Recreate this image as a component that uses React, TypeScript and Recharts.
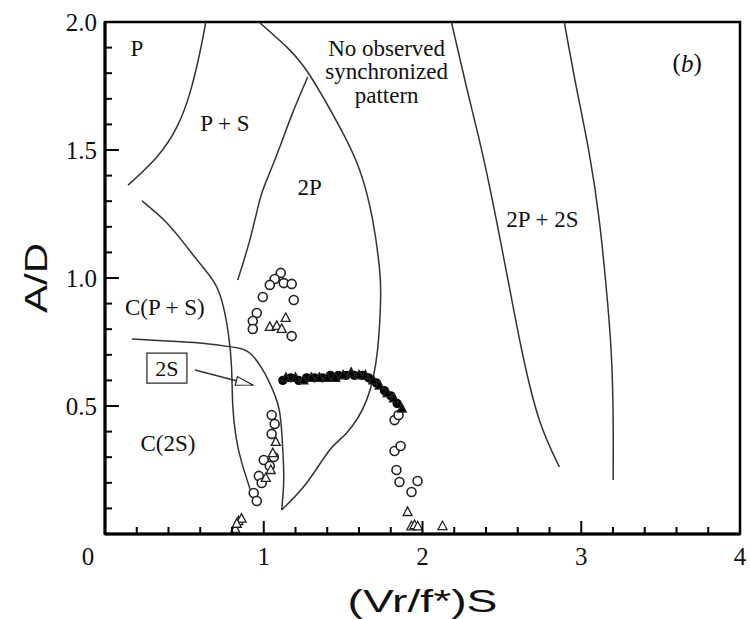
import { ComposedChart, XAxis, YAxis, Line, Scatter, ReferenceArea } from 'recharts';

const xTicks = [0, 0.2, 0.4, 0.6, 0.8, 1, 1.2, 1.4, 1.6, 1.8, 2, 2.2, 2.4, 2.6, 2.8, 3, 3.2, 3.4, 3.6, 3.8, 4];
const yTicks = [0.1, 0.2, 0.3, 0.4, 0.5, 0.6, 0.7, 0.8, 0.9, 1.0, 1.1, 1.2, 1.3, 1.4, 1.5, 1.6, 1.7, 1.8, 1.9, 2.0];

// region boundaries
const curvePvsPS = [
  { x: 0.145, y: 1.363 }, { x: 0.327, y: 1.473 }, { x: 0.453, y: 1.59 },
  { x: 0.535, y: 1.723 }, { x: 0.597, y: 1.879 }, { x: 0.635, y: 2.0 },
];
const curveCPS = [
  { x: 0.233, y: 1.301 }, { x: 0.39, y: 1.215 }, { x: 0.516, y: 1.121 }, { x: 0.616, y: 1.043 },
  { x: 0.704, y: 0.965 }, { x: 0.755, y: 0.863 }, { x: 0.78, y: 0.77 }, { x: 0.797, y: 0.652 },
  { x: 0.805, y: 0.5 }, { x: 0.825, y: 0.38 }, { x: 0.862, y: 0.277 }, { x: 0.937, y: 0.133 },
];
const curveC2S = [
  { x: 0.17, y: 0.762 }, { x: 0.39, y: 0.754 }, { x: 0.597, y: 0.746 }, { x: 0.805, y: 0.73 },
  { x: 0.912, y: 0.707 }, { x: 0.994, y: 0.641 }, { x: 1.057, y: 0.562 }, { x: 1.101, y: 0.473 },
  { x: 1.119, y: 0.34 }, { x: 1.126, y: 0.211 }, { x: 1.113, y: 0.094 },
];
const curveNoSync = [
  { x: 0.969, y: 2.0 }, { x: 1.145, y: 1.902 }, { x: 1.289, y: 1.793 }, { x: 1.478, y: 1.59 },
  { x: 1.604, y: 1.422 }, { x: 1.686, y: 1.227 }, { x: 1.73, y: 1.031 }, { x: 1.736, y: 0.914 },
  { x: 1.717, y: 0.719 }, { x: 1.648, y: 0.523 }, { x: 1.522, y: 0.395 }, { x: 1.415, y: 0.328 },
  { x: 1.27, y: 0.199 }, { x: 1.113, y: 0.094 },
];
const curve2P = [
  { x: 0.836, y: 0.992 }, { x: 0.912, y: 1.148 }, { x: 0.975, y: 1.305 }, { x: 1.019, y: 1.383 },
  { x: 1.101, y: 1.512 }, { x: 1.182, y: 1.645 }, { x: 1.277, y: 1.785 },
];
const curve2P2SLeft = [
  { x: 2.182, y: 2.0 }, { x: 2.277, y: 1.746 }, { x: 2.377, y: 1.488 }, { x: 2.465, y: 1.227 },
  { x: 2.547, y: 0.965 }, { x: 2.629, y: 0.707 }, { x: 2.736, y: 0.445 }, { x: 2.862, y: 0.262 },
];
const curve2P2SRight = [
  { x: 2.893, y: 2.0 }, { x: 2.969, y: 1.746 }, { x: 3.05, y: 1.488 }, { x: 3.113, y: 1.227 },
  { x: 3.157, y: 0.965 }, { x: 3.189, y: 0.707 }, { x: 3.201, y: 0.445 }, { x: 3.201, y: 0.211 },
];
const arrowLine = [{ x: 0.566, y: 0.641 }, { x: 0.931, y: 0.582 }];
const arrowTip = [{ x: 0.931, y: 0.582 }];

// measurements
const openCircles = [
  { x: 1.107, y: 1.02 }, { x: 1.069, y: 0.996 }, { x: 1.038, y: 0.973 }, { x: 0.994, y: 0.926 },
  { x: 1.126, y: 0.98 }, { x: 1.176, y: 0.977 }, { x: 1.189, y: 0.914 }, { x: 0.956, y: 0.863 },
  { x: 0.931, y: 0.832 }, { x: 0.931, y: 0.801 }, { x: 1.176, y: 0.773 },
  { x: 1.05, y: 0.465 }, { x: 1.069, y: 0.43 }, { x: 1.05, y: 0.391 }, { x: 1.0, y: 0.289 },
  { x: 1.038, y: 0.266 }, { x: 1.063, y: 0.301 }, { x: 0.969, y: 0.227 }, { x: 0.987, y: 0.199 },
  { x: 0.937, y: 0.16 }, { x: 0.956, y: 0.129 },
  { x: 1.824, y: 0.445 }, { x: 1.849, y: 0.465 }, { x: 1.824, y: 0.324 }, { x: 1.862, y: 0.344 },
  { x: 1.836, y: 0.25 }, { x: 1.855, y: 0.203 }, { x: 1.931, y: 0.164 }, { x: 1.969, y: 0.207 },
];
const openTriangles = [
  { x: 1.138, y: 0.844 }, { x: 1.038, y: 0.809 }, { x: 1.082, y: 0.813 }, { x: 1.113, y: 0.801 },
  { x: 1.057, y: 0.316 }, { x: 1.044, y: 0.25 }, { x: 1.013, y: 0.219 }, { x: 1.076, y: 0.36 },
  { x: 0.82, y: 0.02 }, { x: 0.84, y: 0.05 }, { x: 0.86, y: 0.06 }, { x: 0.83, y: 0.04 },
  { x: 1.906, y: 0.086 }, { x: 1.93, y: 0.03 }, { x: 1.95, y: 0.035 }, { x: 1.97, y: 0.03 },
  { x: 2.126, y: 0.031 },
];
const filledCircles = [
  { x: 1.12, y: 0.6 }, { x: 1.17, y: 0.61 }, { x: 1.22, y: 0.6 }, { x: 1.27, y: 0.61 },
  { x: 1.32, y: 0.61 }, { x: 1.37, y: 0.61 }, { x: 1.42, y: 0.62 }, { x: 1.47, y: 0.62 },
  { x: 1.52, y: 0.62 }, { x: 1.57, y: 0.62 }, { x: 1.62, y: 0.62 }, { x: 1.66, y: 0.61 },
  { x: 1.71, y: 0.59 }, { x: 1.76, y: 0.56 }, { x: 1.8, y: 0.54 }, { x: 1.84, y: 0.51 },
];
const filledTriangles = [
  { x: 1.14, y: 0.61 }, { x: 1.2, y: 0.61 }, { x: 1.25, y: 0.6 }, { x: 1.3, y: 0.61 },
  { x: 1.35, y: 0.61 }, { x: 1.4, y: 0.61 }, { x: 1.45, y: 0.61 }, { x: 1.5, y: 0.62 },
  { x: 1.55, y: 0.63 }, { x: 1.6, y: 0.62 }, { x: 1.64, y: 0.62 }, { x: 1.69, y: 0.6 },
  { x: 1.73, y: 0.58 }, { x: 1.78, y: 0.55 }, { x: 1.82, y: 0.53 }, { x: 1.87, y: 0.49 },
];

const regionLabels = [
  { x: 0.201, y: 1.898, text: 'P' },
  { x: 0.755, y: 1.605, text: 'P + S' },
  { x: 1.289, y: 1.352, text: '2P' },
  { x: 1.774, y: 1.898, text: 'No observed' },
  { x: 1.774, y: 1.805, text: 'synchronized' },
  { x: 1.774, y: 1.711, text: 'pattern' },
  { x: 2.755, y: 1.227, text: '2P + 2S' },
  { x: 0.377, y: 0.883, text: 'C(P + S)' },
  { x: 0.396, y: 0.355, text: 'C(2S)' },
];
const boxedLabel = [{ x: 0.39, y: 0.648, text: '2S' }];
const panelLabel = [{ x: 3.667, y: 1.84, text: 'b' }];

const SERIF = '"Liberation Serif", "DejaVu Serif", serif';
const SANS = '"Liberation Sans", Arial, sans-serif';
const INK = '#222';

const openCircle = (p: any) => (
  <circle cx={p.cx} cy={p.cy} r={4.5} fill="#fff" stroke={INK} strokeWidth={1.6} />
);
const filledCircle = (p: any) => <circle cx={p.cx} cy={p.cy} r={4.6} fill="#000" />;
const tri = (filled: boolean) => (p: any) => (
  <polygon
    points={`${p.cx},${p.cy - 5} ${p.cx - 4.5},${p.cy + 3.5} ${p.cx + 4.5},${p.cy + 3.5}`}
    fill={filled ? '#000' : '#fff'}
    stroke={INK}
    strokeWidth={1.3}
  />
);
const textShape = (p: any) => (
  <text x={p.cx} y={p.cy} textAnchor="middle" dominantBaseline="central"
    fontFamily={SERIF} fontSize={23} fill="#111">
    {p.payload.text}
  </text>
);
const boxShape = (p: any) => (
  <g>
    <rect x={p.cx - 20} y={p.cy - 15} width={40} height={30} fill="#fff" stroke={INK} strokeWidth={1.2} />
    <text x={p.cx} y={p.cy} textAnchor="middle" dominantBaseline="central"
      fontFamily={SERIF} fontSize={22} fill="#111">{p.payload.text}</text>
  </g>
);
const panelShape = (p: any) => (
  <text x={p.cx} y={p.cy} textAnchor="middle" dominantBaseline="central"
    fontFamily={SERIF} fontSize={25} fill="#111">
    (<tspan fontStyle="italic">{p.payload.text}</tspan>)
  </text>
);
const arrowHead = (p: any) => (
  <g transform={`translate(${p.cx},${p.cy}) rotate(14)`}>
    <polygon points="0,0 -17,-4.5 -17,4.5" fill="#fff" stroke={INK} strokeWidth={1.2} />
  </g>
);

const XTick = (p: any) => {
  const v = p.payload.value;
  const major = Math.abs(v - Math.round(v)) < 1e-6;
  const len = major ? 13 : 7;
  return (
    <g>
      {v > 0 && v < 4 && <line x1={p.x} y1={p.y} x2={p.x} y2={p.y - len} stroke="#000" strokeWidth={2} />}
      {major && (
        <text x={v === 0 ? p.x - 17 : p.x} y={p.y + 22} textAnchor="middle" dominantBaseline="central"
          fontFamily={SERIF} fontSize={25} fill="#111">{String(v)}</text>
      )}
    </g>
  );
};

const YTick = (p: any) => {
  const v = p.payload.value;
  const major = Math.abs(v * 2 - Math.round(v * 2)) < 1e-6;
  const len = major ? 14 : 7;
  return (
    <g>
      {v < 2 && <line x1={p.x} y1={p.y} x2={p.x + len} y2={p.y} stroke="#000" strokeWidth={2} />}
      {major && (
        <text x={p.x - 8} y={p.y} textAnchor="end" dominantBaseline="central"
          fontFamily={SERIF} fontSize={25} fill="#111">{v.toFixed(1)}</text>
      )}
    </g>
  );
};

const boundaries = [curvePvsPS, curveCPS, curveC2S, curveNoSync, curve2P, curve2P2SLeft, curve2P2SRight];

export default function App() {
  return (
    <div style={{ position: 'absolute', left: 0, top: 0, background: '#fff' }}>
      <ComposedChart width={750} height={619} margin={{ top: 22, right: 10, bottom: 0, left: 0 }}>
        <XAxis
          type="number" dataKey="x" domain={[0, 4]} ticks={xTicks} interval={0}
          allowDataOverflow height={85} tickSize={0} tickMargin={0}
          axisLine={{ stroke: '#000', strokeWidth: 3 }} tick={<XTick />}
          label={{
            content: (lp: any) => {
              const vb = lp.viewBox;
              return (
                <text x={vb.x + vb.width / 2} y={601} textAnchor="middle" dominantBaseline="central"
                  fontFamily={SANS} fontSize={31} fill="#111" textLength={150}
                  lengthAdjust="spacingAndGlyphs">(Vr/f*)S</text>
              );
            },
          }}
        />
        <YAxis
          type="number" dataKey="y" domain={[0, 2]} ticks={yTicks} interval={0}
          allowDataOverflow width={105} tickSize={0} tickMargin={0}
          axisLine={{ stroke: '#000', strokeWidth: 3 }} tick={<YTick />}
          label={{
            content: (lp: any) => {
              const vb = lp.viewBox;
              const cx = 36;
              const cy = vb.y + vb.height / 2;
              return (
                <text x={cx} y={cy} transform={`rotate(-90, ${cx}, ${cy})`} textAnchor="middle"
                  dominantBaseline="central" fontFamily={SANS} fontSize={31} fill="#111"
                  textLength={70} lengthAdjust="spacingAndGlyphs">A/D</text>
              );
            },
          }}
        />
        <ReferenceArea x1={0} x2={4} y1={0} y2={2} fill="none" stroke="#000" strokeWidth={2.5} />
        {boundaries.map((d, i) => (
          <Line key={i} data={d} dataKey="y" type="natural" stroke="#333" strokeWidth={1.5}
            dot={false} activeDot={false} isAnimationActive={false} />
        ))}
        <Line data={arrowLine} dataKey="y" type="linear" stroke="#333" strokeWidth={1.5}
          dot={false} activeDot={false} isAnimationActive={false} />
        <Scatter data={arrowTip} shape={arrowHead} isAnimationActive={false} />
        <Scatter data={openCircles} shape={openCircle} isAnimationActive={false} />
        <Scatter data={openTriangles} shape={tri(false)} isAnimationActive={false} />
        <Scatter data={filledCircles} shape={filledCircle} isAnimationActive={false} />
        <Scatter data={filledTriangles} shape={tri(true)} isAnimationActive={false} />
        <Scatter data={regionLabels} shape={textShape} isAnimationActive={false} />
        <Scatter data={boxedLabel} shape={boxShape} isAnimationActive={false} />
        <Scatter data={panelLabel} shape={panelShape} isAnimationActive={false} />
      </ComposedChart>
    </div>
  );
}
